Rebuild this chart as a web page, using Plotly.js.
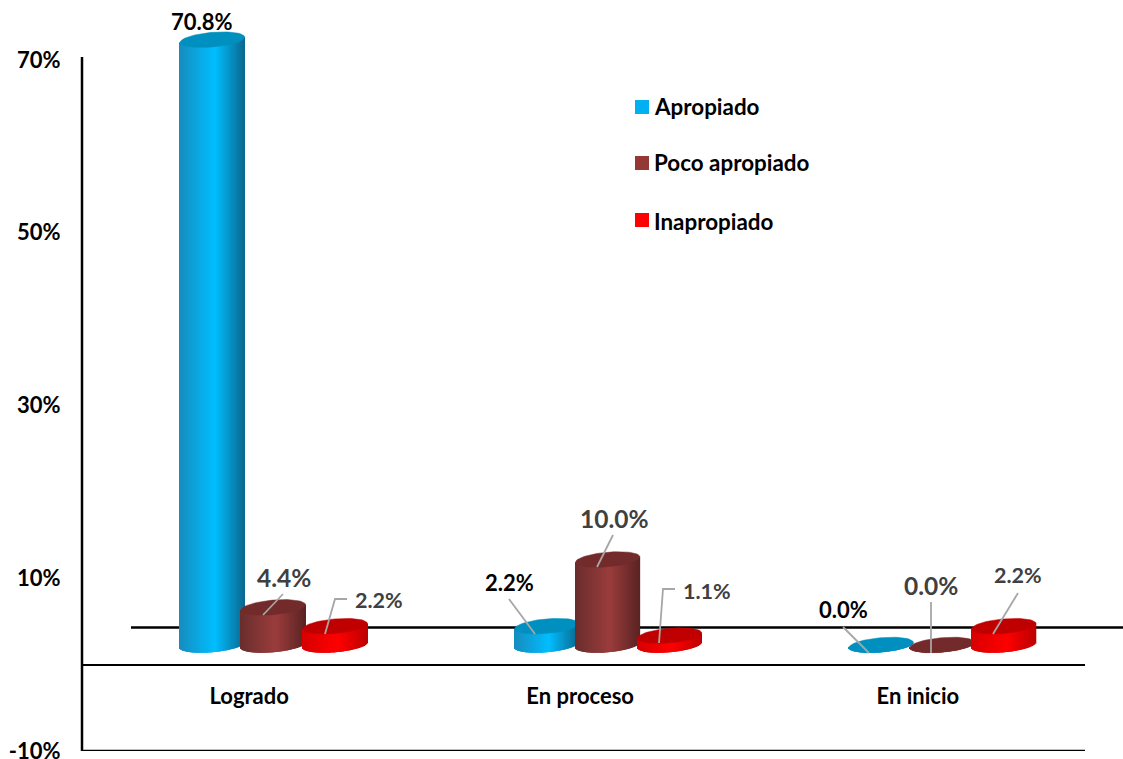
<!DOCTYPE html>
<html>
<head>
<meta charset="utf-8">
<script src="https://cdn.plot.ly/plotly-3.0.1.min.js"></script>
<style>html,body{margin:0;padding:0;background:#fff}#chart{width:1123px;height:759px}</style>
</head>
<body>
<div id="chart"></div>
<script>
// ---- data ----
const categories = ['Logrado', 'En proceso', 'En inicio'];
const apropiado = [70.8, 2.2, 0.0];
const pocoApropiado = [4.4, 10.0, 0.0];
const inapropiado = [2.2, 1.1, 2.2];
const seriesNames = ['Apropiado', 'Poco apropiado', 'Inapropiado'];
const yTickVals = [-10, 10, 30, 50, 70];
const yTickText = ['-10%', '10%', '30%', '50%', '70%'];

// ---- styles ----
const legendColors = ['#00B0F0', '#953735', '#FF0000'];
const topColors = ['#0090BF', '#722B2A', '#C00000'];
const bodyStops = [
  [[0, [22, 140, 190]], [0.55, [0, 190, 255]], [1, [10, 105, 145]]],
  [[0, [105, 45, 44]], [0.55, [155, 60, 60]], [1, [90, 35, 34]]],
  [[0, [215, 0, 0]], [0.55, [255, 0, 0]], [1, [190, 0, 0]]]
];
const labelColors = ['#000000', '#404040', '#404040'];

// ---- layout geometry (pixels of the page) ----
const W = 1123, H = 759, L = 82, R = 1085, T = 20, B = 751, axisTopPx = 57;
const pxPerUnit = (B - 60) / 80;
const yMin = -10, yMax = yMin + (B - T) / pxPerUnit;
const xMin = -0.5, xMax = 2.5;
const dataX = px => (px - L) / (R - L) * (xMax - xMin) + xMin;
const dataY = py => (B - py) / pxPerUnit + yMin;
const paperX = px => (px - L) / (R - L);
const paperY = py => (B - py) / (B - T);

// 3-D look: depth offset of the floor and cylinder shape
const floorPx = 645, cylPxPerUnit = 8.55;
const radiusPx = 32.2, ellipseB = 7.3, ellipseTilt = 2.7;
const seriesOffsetPx = [-36.8, 24.2, 86];
const pxPerX = (R - L) / (xMax - xMin);
const stripCount = 65;

function stripColor(stops, t) {
  let i = t <= stops[1][0] ? 0 : 1;
  const a = stops[i], b = stops[i + 1], f = (t - a[0]) / (b[0] - a[0]);
  const c = a[1].map((v, k) => Math.round(v + (b[1][k] - v) * f));
  return 'rgb(' + c.join(',') + ')';
}

const seriesValues = [apropiado, pocoApropiado, inapropiado];
const traces = [];
seriesValues.forEach((values, s) => {
  const xa = s === 0 ? 'x' : 'x' + (s + 1), ya = s === 0 ? 'y' : 'y' + (s + 1);
  const bx = [], by = [], bb = [], bw = [], bc = [];
  const ex = [], ey = [];
  values.forEach((v, c) => {
    const cx = c + seriesOffsetPx[s] / pxPerX;
    const topPy = floorPx - v * cylPxPerUnit;
    for (let k = 0; k < stripCount; k++) {
      const u = (k + 0.5) / stripCount * 2 - 1;
      const half = ellipseB * Math.sqrt(1 - u * u);
      const tilt = -u * ellipseTilt;
      const low = dataY(floorPx + tilt + half);
      const high = dataY(topPy + tilt);
      bx.push(cx + u * radiusPx / pxPerX);
      bb.push(low);
      by.push(high - low);
      bw.push(1.5 * (2 * radiusPx / stripCount) / pxPerX);
      bc.push(stripColor(bodyStops[s], (u + 1) / 2));
    }
    for (let a = 0; a <= 72; a++) {
      const th = a / 72 * 2 * Math.PI;
      ex.push(cx + Math.cos(th) * radiusPx / pxPerX);
      ey.push(dataY(topPy - Math.cos(th) * ellipseTilt + Math.sin(th) * ellipseB));
    }
    ex.push(null); ey.push(null);
  });
  traces.push({
    type: 'bar', name: seriesNames[s], x: bx, y: by, base: bb, width: bw,
    marker: { color: bc, line: { width: 0 } }, xaxis: xa, yaxis: ya,
    hoverinfo: 'skip', showlegend: false
  });
  traces.push({
    type: 'scatter', mode: 'lines', name: seriesNames[s] + ' (tapa)', x: ex, y: ey,
    fill: 'toself', fillcolor: topColors[s], line: { color: topColors[s], width: 0.5 },
    xaxis: xa, yaxis: ya, hoverinfo: 'skip', showlegend: false
  });
});

// leader lines (page pixels)
const leaders = [
  [[283, 594], [263, 615]],
  [[347, 599], [335, 599], [325, 634]],
  [[509, 599], [535, 634]],
  [[613, 535], [597, 567]],
  [[675, 589], [663, 589], [659, 643]],
  [[843, 627], [869, 653]],
  [[931, 602], [931, 653]],
  [[1018, 593], [993, 634]]
];
const lx = [], ly = [];
leaders.forEach(pts => { pts.forEach(p => { lx.push(dataX(p[0])); ly.push(dataY(p[1])); }); lx.push(null); ly.push(null); });
traces.push({
  type: 'scatter', mode: 'lines', name: 'guías', x: lx, y: ly, xaxis: 'x3', yaxis: 'y3',
  line: { color: '#A6A6A6', width: 1.8 }, hoverinfo: 'skip', showlegend: false
});

// data labels: [series, category, centre x, centre y, font size]
const dataLabels = [
  [0, 0, 202, 21, 22], [1, 0, 284, 577, 24.5], [2, 0, 379, 600, 21.5],
  [0, 1, 509.5, 582, 22], [1, 1, 614, 518, 24.5], [2, 1, 707, 591, 21.5],
  [0, 2, 843, 609, 22], [1, 2, 931, 585, 24.5], [2, 2, 1018, 575, 21.5]
];
const FONT = 'Lato, Carlito, "Open Sans", sans-serif';
const annotations = dataLabels.map(d => ({
  xref: 'paper', yref: 'paper', x: paperX(d[2]), y: paperY(d[3]),
  xanchor: 'center', yanchor: 'middle', showarrow: false,
  text: seriesValues[d[0]][d[1]].toFixed(1) + '%',
  font: { family: FONT, size: d[4], weight: 700, color: labelColors[d[0]] }
}));

// legend drawn at its free-floating position
const legendRows = [107, 163, 220];
const legendTextRows = [106, 163, 221];
const shapes = [
  { type: 'line', xref: 'paper', yref: 'y', x0: paperX(82), x1: paperX(82), y0: -10, y1: dataY(axisTopPx), line: { color: '#000', width: 2.5 }, layer: 'below' },
  { type: 'line', xref: 'paper', yref: 'y', x0: paperX(131), x1: paperX(1123), y0: dataY(627.5), y1: dataY(627.5), line: { color: '#000', width: 2.5 }, layer: 'below' },
  { type: 'line', xref: 'paper', yref: 'y', x0: paperX(81), x1: 1, y0: -10, y1: -10, line: { color: '#000', width: 2.5 }, layer: 'below' }
];
legendRows.forEach((py, i) => {
  shapes.push({ type: 'rect', xref: 'paper', yref: 'paper', x0: paperX(635), x1: paperX(649), y0: paperY(py + 7), y1: paperY(py - 7), fillcolor: legendColors[i], line: { width: 0 }, layer: 'above' });
  annotations.push({ xref: 'paper', yref: 'paper', x: paperX(651.5), y: paperY(legendTextRows[i]), xanchor: 'left', yanchor: 'middle', showarrow: false, text: seriesNames[i], font: { family: FONT, size: 22.4, weight: 700, color: '#000' } });
});

const hiddenX = { range: [xMin, xMax], visible: false, overlaying: 'x', fixedrange: true };
const hiddenY = { range: [yMin, yMax], visible: false, overlaying: 'y', fixedrange: true };

const layout = {
  width: W, height: H, autosize: false,
  margin: { l: L, r: W - R, t: T, b: H - B, pad: 0 },
  paper_bgcolor: '#fff', plot_bgcolor: 'rgba(0,0,0,0)',
  barmode: 'overlay', showlegend: false,
  font: { family: FONT, size: 20, color: '#000' },
  xaxis: {
    type: 'linear', range: [xMin, xMax], anchor: 'free', position: (0 - yMin) / (yMax - yMin),
    tickmode: 'array', tickvals: [0, 0.99, 2], ticktext: categories,
    showline: true, linecolor: '#000', linewidth: 2, showgrid: false, zeroline: false,
    ticks: 'outside', ticklen: 12, tickcolor: 'rgba(0,0,0,0)', ticklabeloverflow: 'allow',
    tickfont: { family: FONT, size: 22, weight: 700, color: '#000' }, fixedrange: true
  },
  yaxis: {
    range: [yMin, yMax], tickmode: 'array', tickvals: yTickVals, ticktext: yTickText,
    showline: false, showgrid: false, zeroline: false,
    ticks: 'outside', ticklen: 16, tickcolor: 'rgba(0,0,0,0)', ticklabeloverflow: 'allow',
    tickfont: { family: FONT, size: 22, weight: 700, color: '#000' }, fixedrange: true
  },
  xaxis2: Object.assign({ anchor: 'y2' }, hiddenX), yaxis2: Object.assign({ anchor: 'x2' }, hiddenY),
  xaxis3: Object.assign({ anchor: 'y3' }, hiddenX), yaxis3: Object.assign({ anchor: 'x3' }, hiddenY),
  shapes: shapes, annotations: annotations
};
Plotly.newPlot('chart', traces, layout, { displayModeBar: false, responsive: false });
</script>
</body>
</html>
